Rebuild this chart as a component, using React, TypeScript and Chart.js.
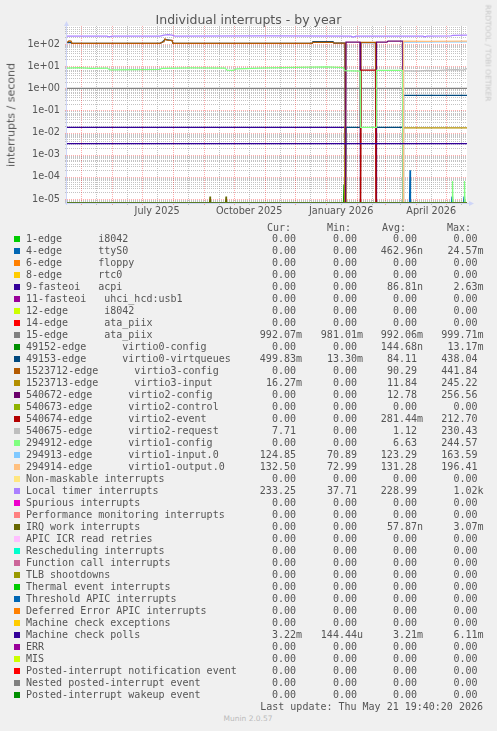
import React, { useEffect, useRef } from 'react';
import { Chart, registerables } from 'chart.js';

Chart.register(...registerables);

const W = 497;
const H = 731;
const Y_MIN = 6.6e-6;
const Y_MAX = 650;
const X_MAX = 400; // days shown (Apr 16 2025 19:40 -> May 21 2026 19:40)

// ---- axis ticks ----
const yTickValues = [1e-5, 1e-4, 1e-3, 1e-2, 1e-1, 1, 10, 100];
const yTickLabels = ['1e-05', '1e-04', '1e-03', '1e-02', '1e-01', '1e+00', '1e+01', '1e+02'];
const monthStartDays = [14.2, 45.2, 75.2, 106.2, 137.2, 167.2, 198.2, 228.2, 259.2, 290.2, 318.2, 349.2, 379.2];
const midMonthDays = [29.2, 60.2, 90.2, 121.2, 152.2, 182.2, 213.2, 243.2, 274.2, 305.2, 333.2, 364.2, 394.2];
const xLabelDays = [90.2, 182.2, 274.2, 364.2];
const xLabels = ['July 2025', 'October 2025', 'January 2026', 'April 2026'];

// ---- series: [day, value] ----
const zeroSeries = [[0, 0], [400, 0]];
const ttyS0 = [[0, 0], [342.5, 0], [343, 2e-4], [343.5, 0], [384.5, 0], [385, 1.3e-5], [385.5, 0], [396.5, 0], [397, 1.3e-5], [397.5, 0], [400, 0]];
const acpi = [[0, 0.017], [278, 0.017], [278.5, 0], [400, 0]];
const ataPiix15 = [[0, 0.99], [400, 0.99]];
const virtio0Config = [[0, 0], [276.5, 0], [277, 4.5e-5], [277.5, 0], [400, 0]];
const virtio0Virtqueues = [[0, 116], [4, 116], [5, 106], [93, 106], [95, 118], [98, 162], [105, 144], [106, 107], [245, 107], [246, 128], [266, 128], [267, 109], [278, 109], [278.5, 0], [279, 0.017], [293, 0.017], [293.5, 116], [308.5, 116], [309, 0.017], [336, 0.017], [336.5, 0.48], [400, 0.48]];
const virtio3Config = [[0, 118], [2, 138], [4, 136], [5, 107], [93, 107], [95, 120], [97, 128], [98, 168], [100, 150], [105, 146], [106, 108], [245, 108], [246, 118], [266, 118], [267, 110], [278, 110], [278.5, 0], [293.5, 0], [294, 118], [308.5, 118], [309, 0], [400, 0]];
const virtio3Input = [[0, 0], [277.5, 0], [278.2, 0.02], [279, 0], [336, 0], [336.5, 0.0163], [400, 0.0163]];
const virtio2Config = [[0, 0], [278.5, 0], [279, 120], [293, 120], [293.5, 0], [309, 0], [309.5, 120], [320, 120], [321, 135], [335.5, 135], [336, 0], [400, 0]];
const virtio2Event = [[0, 0], [293.5, 0], [294, 6.6], [308.5, 6.6], [309, 0], [400, 0]];
const virtio2Request = [[0, 0], [336, 0], [336.5, 6.2], [350, 6.0], [360, 6.4], [370, 6.3], [380, 6.8], [390, 7.0], [396, 6.6], [400, 7.7]];
const virtio1Config = [[0, 8.2], [12, 8.5], [24, 8.0], [40, 8.2], [43, 6.7], [70, 6.9], [93, 7.2], [95, 8.0], [125, 8.3], [158, 8.1], [160, 6.6], [166, 6.4], [170, 7.6], [200, 8.3], [230, 8.7], [260, 9.2], [276, 8.6], [278, 6.2], [293, 6.0], [293.5, 0.017], [309, 0.017], [309.5, 6.4], [335.5, 6.5], [336, 0], [385, 0], [385.5, 6.5e-5], [386, 0], [397, 0], [397.5, 6.5e-5], [398, 0], [400, 0]];
const virtio1Input = [[0, 0], [336, 0], [336.5, 122], [370, 124], [400, 125]];
const virtio1Output = [[0, 0], [336, 0], [336.5, 135], [360, 132], [400, 134]];
const localTimer = [[0, 228], [40, 226], [42, 212], [45, 227], [93, 228], [97, 250], [101, 262], [105, 250], [108, 229], [200, 230], [284, 228], [286, 205], [289, 228], [340, 229], [356, 228], [358, 212], [360, 229], [384, 231], [386, 248], [400, 250]];
const irqWork = [[0, 0], [142.5, 0], [143, 1.3e-5], [143.5, 0], [158.5, 0], [159, 1.3e-5], [159.5, 0], [400, 0]];
const machineCheckPolls = [[0, 0.0032], [400, 0.0032]];

// ---- legend ----
const legendNames = [
  '1-edge      i8042', '4-edge      ttyS0', '6-edge      floppy', '8-edge      rtc0', '9-fasteoi   acpi',
  '11-fasteoi   uhci_hcd:usb1', '12-edge      i8042', '14-edge      ata_piix', '15-edge      ata_piix',
  '49152-edge      virtio0-config', '49153-edge      virtio0-virtqueues', '1523712-edge      virtio3-config',
  '1523713-edge      virtio3-input', '540672-edge      virtio2-config', '540673-edge      virtio2-control',
  '540674-edge      virtio2-event', '540675-edge      virtio2-request', '294912-edge      virtio1-config',
  '294913-edge      virtio1-input.0', '294914-edge      virtio1-output.0', 'Non-maskable interrupts',
  'Local timer interrupts', 'Spurious interrupts', 'Performance monitoring interrupts', 'IRQ work interrupts',
  'APIC ICR read retries', 'Rescheduling interrupts', 'Function call interrupts', 'TLB shootdowns',
  'Thermal event interrupts', 'Threshold APIC interrupts', 'Deferred Error APIC interrupts',
  'Machine check exceptions', 'Machine check polls', 'ERR', 'MIS', 'Posted-interrupt notification event',
  'Nested posted-interrupt event', 'Posted-interrupt wakeup event',
];
const legendColors = [
  '#00CC00', '#0066B3', '#FF8000', '#FFCC00', '#330099', '#990099', '#CCFF00', '#FF0000', '#808080',
  '#008F00', '#00487D', '#B35A00', '#B38F00', '#6B006B', '#8FB300', '#B30000', '#BEBEBE', '#80FF80',
  '#80C9FF', '#FFC080', '#FFE680', '#AA80FF', '#EE00CC', '#FF8080', '#666600', '#FFBFFF', '#00FFCC',
  '#CC6699', '#999900', '#00CC00', '#0066B3', '#FF8000', '#FFCC00', '#330099', '#990099', '#CCFF00',
  '#FF0000', '#808080', '#008F00',
];
const Z = '0.00';
const legendCur = [Z, Z, Z, Z, Z, Z, Z, Z, '992.07m', Z, '499.83m', Z, '16.27m', Z, Z, Z, '7.71', Z, '124.85', '132.50', Z, '233.25', Z, Z, Z, Z, Z, Z, Z, Z, Z, Z, Z, '3.22m', Z, Z, Z, Z, Z];
const legendMin = [Z, Z, Z, Z, Z, Z, Z, Z, '981.01m', Z, '13.30m', Z, Z, Z, Z, Z, Z, Z, '70.89', '72.99', Z, '37.71', Z, Z, Z, Z, Z, Z, Z, Z, Z, Z, Z, '144.44u', Z, Z, Z, Z, Z];
const legendAvg = [Z, '462.96n', Z, Z, '86.81n', Z, Z, Z, '992.06m', '144.68n', '84.11', '90.29', '11.84', '12.78', Z, '281.44m', '1.12', '6.63', '123.29', '131.28', Z, '228.99', Z, Z, '57.87n', Z, Z, Z, Z, Z, Z, Z, Z, '3.21m', Z, Z, Z, Z, Z];
const legendMax = [Z, '24.57m', Z, Z, '2.63m', Z, Z, Z, '999.71m', '13.17m', '438.04', '441.84', '245.22', '256.56', Z, '212.70', '230.43', '244.57', '163.59', '196.41', Z, '1.02k', Z, Z, '3.07m', Z, Z, Z, Z, Z, Z, Z, Z, '6.11m', Z, Z, Z, Z, Z];

const seriesByIndex: { [k: number]: number[][] } = {
  1: ttyS0, 4: acpi, 8: ataPiix15, 9: virtio0Config, 10: virtio0Virtqueues, 11: virtio3Config,
  12: virtio3Input, 13: virtio2Config, 15: virtio2Event, 16: virtio2Request, 17: virtio1Config,
  18: virtio1Input, 19: virtio1Output, 21: localTimer, 24: irqWork, 33: machineCheckPolls,
};

const FONT_COLOR = '#555555';
const AXIS_COLOR = '#CFD6F8';
const MINOR_GRID = 'rgba(170,170,170,0.7)';
const MAJOR_GRID = 'rgba(255,0,0,0.32)';

const rrdPlugin = {
  id: 'rrdGrid',
  beforeDraw(chart: any) {
    const { ctx, chartArea } = chart;
    ctx.save();
    ctx.fillStyle = '#FFFFFF';
    ctx.fillRect(chartArea.left, chartArea.top, chartArea.right - chartArea.left, chartArea.bottom - chartArea.top);
    ctx.restore();
  },
  beforeDatasetsDraw(chart: any) {
    const { ctx, chartArea } = chart;
    const { left, right, top, bottom } = chartArea;
    const xs = chart.scales.x;
    const ys = chart.scales.y;
    ctx.save();
    ctx.lineWidth = 1;
    ctx.setLineDash([1, 1]);
    const hline = (v: number, color: string) => {
      const y = Math.round(ys.getPixelForValue(v)) + 0.5;
      ctx.strokeStyle = color;
      ctx.beginPath();
      ctx.moveTo(left - 2, y);
      ctx.lineTo(right, y);
      ctx.stroke();
    };
    const vline = (d: number, color: string) => {
      const x = Math.round(xs.getPixelForValue(d)) + 0.5;
      ctx.strokeStyle = color;
      ctx.beginPath();
      ctx.moveTo(x, top);
      ctx.lineTo(x, bottom + 2);
      ctx.stroke();
    };
    for (let e = -6; e <= 2; e++) {
      for (let m = 2; m <= 9; m++) {
        const v = m * Math.pow(10, e);
        if (v > Y_MIN && v < Y_MAX) hline(v, MINOR_GRID);
      }
    }
    midMonthDays.forEach((d) => vline(d, MINOR_GRID));
    yTickValues.forEach((v) => hline(v, MAJOR_GRID));
    monthStartDays.forEach((d) => vline(d, MAJOR_GRID));
    ctx.setLineDash([]);
    // axes
    ctx.strokeStyle = AXIS_COLOR;
    ctx.fillStyle = AXIS_COLOR;
    ctx.beginPath();
    ctx.moveTo(left - 0.5, bottom + 2);
    ctx.lineTo(left - 0.5, top);
    ctx.moveTo(left - 2, bottom + 0.5);
    ctx.lineTo(right + 2, bottom + 0.5);
    ctx.stroke();
    ctx.beginPath();
    ctx.moveTo(left - 0.5, top - 5);
    ctx.lineTo(left - 3, top);
    ctx.lineTo(left + 2, top);
    ctx.closePath();
    ctx.fill();
    ctx.beginPath();
    ctx.moveTo(right + 7, bottom + 0.5);
    ctx.lineTo(right + 2, bottom - 2);
    ctx.lineTo(right + 2, bottom + 3);
    ctx.closePath();
    ctx.fill();
    ctx.restore();
  },
};

export default function App() {
  const canvasRef = useRef<HTMLCanvasElement | null>(null);

  useEffect(() => {
    if (!canvasRef.current) return;
    const datasets = legendNames.map((name, i) => {
      const raw = seriesByIndex[i] || zeroSeries;
      return {
        label: name,
        data: raw.map(([x, y]) => ({ x, y: y > 0 ? y : Y_MIN })),
        borderColor: legendColors[i],
        backgroundColor: legendColors[i],
        borderWidth: 1.25,
        pointRadius: 0,
        fill: false,
        tension: 0,
        order: -i,
      };
    });
    const chart = new Chart(canvasRef.current, {
      type: 'line',
      data: { datasets },
      options: {
        responsive: false,
        animation: false,
        devicePixelRatio: 1,
        layout: { padding: { top: 26, right: 30, left: 0, bottom: 0 } },
        plugins: { legend: { display: false }, title: { display: false }, tooltip: { enabled: false } },
        scales: {
          x: {
            type: 'linear',
            min: 0,
            max: X_MAX,
            grid: { display: false, drawTicks: false },
            border: { display: false },
            ticks: {
              autoSkip: false,
              maxRotation: 0,
              padding: 3,
              color: FONT_COLOR,
              font: { family: 'DejaVu Sans', size: 9.7 },
              callback: (_v: any, i: number) => xLabels[i] ?? '',
            },
            afterBuildTicks: (s: any) => {
              s.ticks = xLabelDays.map((v) => ({ value: v }));
            },
            afterFit: (s: any) => {
              s.height = 22;
            },
          },
          y: {
            type: 'logarithmic',
            min: Y_MIN,
            max: Y_MAX,
            grid: { display: false, drawTicks: false },
            border: { display: false },
            ticks: {
              autoSkip: false,
              padding: 7,
              color: FONT_COLOR,
              font: { family: 'DejaVu Sans', size: 9.7 },
              callback: (_v: any, i: number) => yTickLabels[i] ?? '',
            },
            afterBuildTicks: (s: any) => {
              s.ticks = yTickValues.map((v) => ({ value: v }));
            },
            afterFit: (s: any) => {
              s.width = 67;
            },
          },
        },
      } as any,
      plugins: [rrdPlugin],
    });
    return () => chart.destroy();
  }, []);

  const mono: React.CSSProperties = {
    position: 'absolute',
    fontFamily: "'DejaVu Sans Mono', monospace",
    fontSize: 10,
    lineHeight: '12px',
    whiteSpace: 'pre',
    color: FONT_COLOR,
  };
  const rowY = (i: number) => 239.3 + 12 * i;
  const valCell = (text: string, rightEdge: number, cy: number, key: string) => {
    const t = /[a-zA-Z]$/.test(text) ? text : text + ' ';
    return (
      <div key={key} style={{ ...mono, right: W - rightEdge, top: cy - 6, textAlign: 'right' }}>
        {t}
      </div>
    );
  };

  return (
    <div style={{ position: 'fixed', left: 0, top: 0, width: W, height: H, background: '#F0F0F0', overflow: 'hidden', fontFamily: "'DejaVu Sans', sans-serif" }}>
      <canvas ref={canvasRef} width={W} height={225} style={{ position: 'absolute', left: 0, top: 0 }} />
      <div style={{ position: 'absolute', left: 0, top: 12, width: W, textAlign: 'center', fontSize: 12.5, lineHeight: '15px', color: FONT_COLOR, whiteSpace: 'nowrap' }}>
        Individual interrupts - by year
      </div>
      <div style={{ position: 'absolute', left: 10.5, top: 114.5, transform: 'translate(-50%, -50%) rotate(-90deg)', fontSize: 11, lineHeight: '13px', color: FONT_COLOR, whiteSpace: 'nowrap' }}>
        interrupts / second
      </div>
      <div style={{ position: 'absolute', left: 487.5, top: 53, transform: 'translate(-50%, -50%) rotate(90deg)', fontSize: 7.5, lineHeight: '9px', color: '#C8C8C8', whiteSpace: 'nowrap' }}>
        RRDTOOL / TOBI OETIKER
      </div>
      <div style={{ ...mono, left: 267, top: 222.3 }}>Cur:</div>
      <div style={{ ...mono, left: 327, top: 222.3 }}>Min:</div>
      <div style={{ ...mono, left: 382, top: 222.3 }}>Avg:</div>
      <div style={{ ...mono, left: 447, top: 222.3 }}>Max:</div>
      {legendNames.map((name, i) => {
        const cy = rowY(i);
        return (
          <React.Fragment key={name + i}>
            <div style={{ position: 'absolute', left: 14, top: cy - 3, width: 6, height: 6, background: legendColors[i] }} />
            <div style={{ ...mono, left: 26, top: cy - 6 }}>{name}</div>
            {valCell(legendCur[i], 302, cy, 'c' + i)}
            {valCell(legendMin[i], 363, cy, 'm' + i)}
            {valCell(legendAvg[i], 423, cy, 'a' + i)}
            {valCell(legendMax[i], 483.5, cy, 'x' + i)}
          </React.Fragment>
        );
      })}
      <div style={{ ...mono, right: W - 483, top: 707.3 - 6 }}>Last update: Thu May 21 19:40:20 2026</div>
      <div style={{ position: 'absolute', left: 0, width: W - 1, top: 719.3 - 5, textAlign: 'center', fontSize: 7.5, lineHeight: '10px', color: '#BBBBBB', whiteSpace: 'nowrap' }}>
        Munin 2.0.57
      </div>
    </div>
  );
}
